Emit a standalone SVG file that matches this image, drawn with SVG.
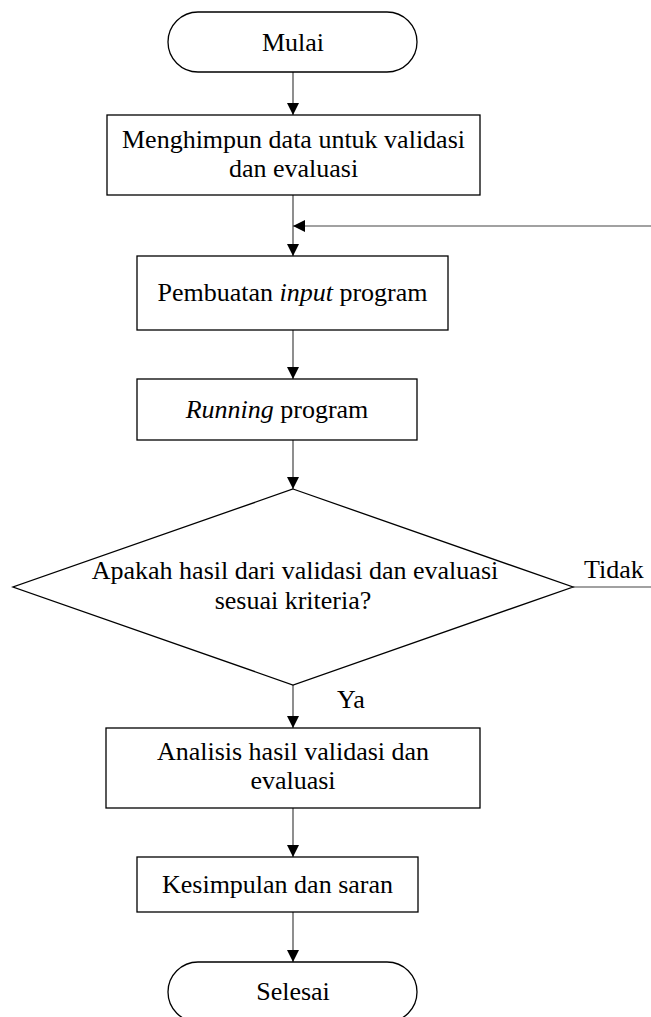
<svg xmlns="http://www.w3.org/2000/svg" width="651" height="1017" viewBox="0 0 651 1017">
<style>
.shape{fill:#fff;stroke:#000;stroke-width:1.3}
.conn{fill:none;stroke:#444;stroke-width:1.2}
text{font-family:"Liberation Serif","Times New Roman",serif;font-size:26px;fill:#000}
.c{text-anchor:middle}
</style>
<defs>
<marker id="ah" markerWidth="13" markerHeight="13" refX="12" refY="6" orient="auto" markerUnits="userSpaceOnUse">
<path d="M0,0 L12,6 L0,12 Z" fill="#000"/>
</marker>
</defs>
<rect width="651" height="1017" fill="#fff"/>
<g id="connectors">
<line class="conn" x1="293" y1="72" x2="293" y2="115" marker-end="url(#ah)"/>
<line class="conn" x1="293" y1="195" x2="293" y2="256" marker-end="url(#ah)"/>
<line class="conn" x1="293" y1="330" x2="293" y2="379" marker-end="url(#ah)"/>
<line class="conn" x1="293" y1="440" x2="293" y2="489" marker-end="url(#ah)"/>
<line class="conn" x1="293" y1="685" x2="293" y2="728" marker-end="url(#ah)"/>
<line class="conn" x1="293" y1="808" x2="293" y2="857" marker-end="url(#ah)"/>
<line class="conn" x1="293" y1="912" x2="293" y2="962" marker-end="url(#ah)"/>
<path class="conn" d="M573,587 L653,587 L653,226 L293,226" marker-end="url(#ah)"/>
<text x="584" y="578">Tidak</text>
<text x="337" y="708">Ya</text>
</g>
<g id="mulai">
<rect class="shape" x="168" y="12" width="249" height="60" rx="30" ry="30"/>
<text class="c" x="293" y="51">Mulai</text>
</g>
<g id="menghimpun">
<rect class="shape" x="107" y="115" width="373" height="80"/>
<text class="c" x="293.5" y="148">Menghimpun data untuk validasi</text>
<text class="c" x="293.5" y="177">dan evaluasi</text>
</g>
<g id="pembuatan">
<rect class="shape" x="137" y="256" width="311" height="74"/>
<text class="c" x="292.5" y="301">Pembuatan <tspan font-style="italic">input</tspan> program</text>
</g>
<g id="running">
<rect class="shape" x="137" y="379" width="280" height="61"/>
<text class="c" x="277" y="418"><tspan font-style="italic">Running</tspan> program</text>
</g>
<g id="keputusan">
<polygon class="shape" points="293,489 573,587 293,685 13,587"/>
<text class="c" x="295" y="579">Apakah hasil dari validasi dan evaluasi</text>
<text class="c" x="293" y="609">sesuai kriteria?</text>
</g>
<g id="analisis">
<rect class="shape" x="106" y="728" width="374" height="80"/>
<text class="c" x="293" y="760">Analisis hasil validasi dan</text>
<text class="c" x="293" y="789">evaluasi</text>
</g>
<g id="kesimpulan">
<rect class="shape" x="137" y="857" width="281" height="55"/>
<text class="c" x="277.5" y="893">Kesimpulan dan saran</text>
</g>
<g id="selesai">
<rect class="shape" x="168" y="962" width="249" height="60" rx="30" ry="30"/>
<text class="c" x="293" y="1000">Selesai</text>
</g>
</svg>
